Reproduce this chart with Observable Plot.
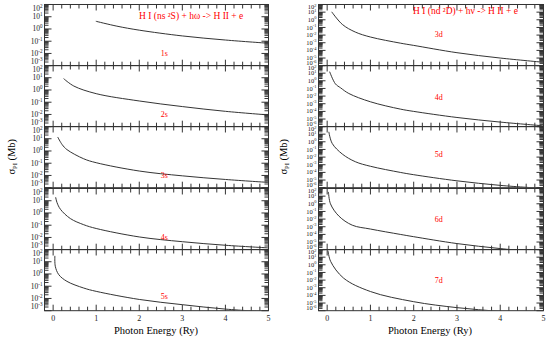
<!DOCTYPE html>
<html><head><meta charset="utf-8">
<script src="https://cdn.jsdelivr.net/npm/d3@7"></script>
<script src="https://cdn.jsdelivr.net/npm/@observablehq/plot@0.6"></script>
<style>
body{margin:0;background:#fff;}
#chart{position:relative;width:550px;height:346px;font-family:"Liberation Serif","Times New Roman",serif;overflow:hidden;background:#fff;}
#chart > svg{position:absolute;overflow:visible;}
.abs{position:absolute;white-space:nowrap;line-height:1;}
.red{color:#f00;}
</style></head><body><div id="chart"></div>
<script>
// ---------- data (photon energy in Ry, cross section in Mb) ----------
const sLabels = ["1s", "2s", "3s", "4s", "5s"];
const dLabels = ["3d", "4d", "5d", "6d", "7d"];

const e1s = [1.0, 1.48, 2, 3, 4, 5];
const sig1s = [4.2, 1.7, 0.80, 0.27, 0.125, 0.068];
const e2s = [0.25, 0.48, 1, 2, 3, 4, 5];
const sig2s = [8.1, 2.1, 0.50, 0.126, 0.044, 0.018, 0.0091];
const e3s = [0.11, 0.21, 0.32, 0.71, 1, 2, 3, 4, 5];
const sig3s = [13, 3.3, 1.3, 0.23, 0.11, 0.023, 0.0093, 0.0047, 0.0027];
const e4s = [0.06, 0.09, 0.17, 0.40, 0.71, 1, 2, 3, 4, 5];
const sig4s = [18, 7.1, 2.0, 0.35, 0.11, 0.054, 0.011, 0.0045, 0.0023, 0.0014];
const e5s = [0.04, 0.05, 0.13, 0.32, 0.71, 1, 2, 3, 4, 5];
const sig5s = [28, 4.3, 0.89, 0.25, 0.071, 0.038, 0.0083, 0.0031, 0.00135, 0.00079];

const e3d = [0.11, 0.35, 0.65, 1, 1.69, 2, 3, 4, 5];
const sig3d = [10, 0.25, 0.025, 0.0056, 8.9e-4, 4.5e-4, 5.0e-5, 1.0e-5, 2.8e-6];
const e4d = [0.06, 0.19, 0.31, 0.5, 1, 1.69, 2, 3, 4, 5];
const sig4d = [14, 0.4, 0.12, 0.022, 0.0018, 2.0e-4, 1.0e-4, 1.6e-5, 4.0e-6, 1.3e-6];
const e5d = [0.04, 0.115, 0.35, 0.65, 1, 1.69, 2, 3, 4, 5];
const sig5d = [18, 0.63, 0.025, 0.0025, 6.3e-4, 1.0e-4, 5.0e-5, 7.9e-6, 2.0e-6, 7.9e-7];
const e6d = [0.03, 0.076, 0.27, 0.58, 1, 1.69, 2, 3, 4, 5];
const sig6d = [32, 1.0, 0.025, 0.0016, 5.0e-4, 1.0e-4, 5.0e-5, 6.3e-6, 1.4e-6, 4.0e-7];
const e7d = [0.02, 0.08, 0.38, 1, 2, 3, 4, 5];
const sig7d = [63, 2.8, 0.018, 3.2e-4, 1.5e-5, 2.5e-6, 7.9e-7, 2.5e-7];

// label anchor positions (data units)
const labelEnergy = 2.58;
const sLabelSigma = [0.01, 0.0095, 0.0095, 0.0095, 0.016];
const dLabelSigma = [0.0126, 0.0063, 0.025, 0.008, 0.01];

const xDomain = [-0.2, 5];
const xTickValues = [0, 1, 2, 3, 4, 5];
const sDomain = [1e-3, 1e2];
const dDomain = [1e-6, 1e2];

const titleS = "H I (ns \u00B2S) + h\u03C9 -> H II + e";
const titleD = "H I (nd \u00B2D) + h\u03BD -> H II + e";
const xTitle = "Photon Energy (Ry)";

// ---------- layout ----------
const chart = document.getElementById("chart");
const AX = "#333";
const PANEL_TOP = 4, PANEL_H = 61.2;
const xMinor = d3.range(1, 25).map(i => i / 5).filter(v => Math.abs(v - Math.round(v)) > 1e-9);

function makePanel({x, s, name, labelSigma, yDomain, left, index, frameW, labelSize, endShift, supDy}) {
  const isBottom = index === 4;
  const mT = 8, mB = isBottom ? 24 : 8, mL = 44, mR = 8;
  const lo = Math.round(Math.log10(yDomain[0])), hi = Math.round(Math.log10(yDomain[1]));
  const yMajor = d3.range(lo, hi + 1).map(k => Math.pow(10, k));
  const yMinor = [];
  for (let k = lo; k < hi; k++) for (let m = 2; m <= 9; m++) yMinor.push(m * Math.pow(10, k));
  const data = x.map((v, i) => ({e: v, s: s[i]}));
  // tick lengths converted from pixels to data units of this panel
  const ux = (xDomain[1] - xDomain[0]) / frameW;
  const uy = (hi - lo) / PANEL_H;
  const xL = xDomain[0], xR = xDomain[1];
  const yTopIn = n => Math.pow(10, hi - n * uy);
  const yBotIn = n => Math.pow(10, lo + n * uy);
  const tk = {stroke: AX, strokeWidth: 1};
  const marks = [
    Plot.frame({stroke: AX, fill: "none"}),
    // inward y ticks, both sides
    Plot.link(yMajor, {x1: xL, x2: xL + 7 * ux, y1: d => d, y2: d => d, ...tk}),
    Plot.link(yMinor, {x1: xL, x2: xL + 4 * ux, y1: d => d, y2: d => d, ...tk}),
    Plot.link(yMajor, {x1: xR, x2: xR - 7 * ux, y1: d => d, y2: d => d, ...tk}),
    Plot.link(yMinor, {x1: xR, x2: xR - 4 * ux, y1: d => d, y2: d => d, ...tk}),
    // inward x ticks, top and bottom
    Plot.link(xTickValues, {x1: d => d, x2: d => d, y1: yDomain[1], y2: yTopIn(6), ...tk}),
    Plot.link(xMinor, {x1: d => d, x2: d => d, y1: yDomain[1], y2: yTopIn(4), ...tk}),
    Plot.link(xTickValues, {x1: d => d, x2: d => d, y1: yDomain[0], y2: yBotIn(6), ...tk}),
    Plot.link(xMinor, {x1: d => d, x2: d => d, y1: yDomain[0], y2: yBotIn(4), ...tk}),
    Plot.axisY({anchor: "left", ticks: yMajor, tickSize: 0, tickPadding: 2, fontSize: labelSize,
      tickFormat: d => "10^" + Math.round(Math.log10(d)), label: null, fill: "#222"}),
    Plot.line(data, {x: "e", y: "s", stroke: "#333", strokeWidth: 1, curve: "catmull-rom", clip: true}),
    Plot.text([{e: labelEnergy, s: labelSigma, t: name}], {x: "e", y: "s", text: "t", fill: "#f00", fontSize: 8})
  ];
  if (isBottom) {
    marks.push(Plot.axisX({anchor: "bottom", ticks: xTickValues, tickSize: 0, tickPadding: 5, fontSize: 8,
      tickFormat: d => String(d), label: null, fill: "#222"}));
  }
  const svg = Plot.plot({
    width: mL + frameW + mR,
    height: mT + PANEL_H + mB,
    marginLeft: mL, marginRight: mR, marginTop: mT, marginBottom: mB,
    x: {domain: xDomain, axis: null},
    y: {type: "log", domain: yDomain, axis: null},
    style: {background: "transparent", overflow: "visible", fontFamily: "'Liberation Serif', serif", color: "#222"},
    marks
  });
  // superscript exponents; nudge end labels inside the panel
  svg.querySelectorAll("text").forEach(t => {
    const m = /^10\^(-?\d+)$/.exec(t.textContent);
    if (m) {
      const k = +m[1];
      t.textContent = "10";
      const ts = document.createElementNS("http://www.w3.org/2000/svg", "tspan");
      ts.setAttribute("dy", String(supDy));
      ts.setAttribute("font-size", String(labelSize * 0.68));
      ts.textContent = m[1];
      t.appendChild(ts);
      const shift = k === hi ? endShift : k === lo ? -endShift : 0;
      if (shift) {
        const tr = t.getAttribute("transform") || "";
        t.setAttribute("transform", (tr + ` translate(0,${shift})`).trim());
      }
    }
  });
  svg.style.left = left + "px";
  svg.style.top = (PANEL_TOP + index * PANEL_H - mT) + "px";
  chart.appendChild(svg);
}

const sSeries = [[e1s, sig1s], [e2s, sig2s], [e3s, sig3s], [e4s, sig4s], [e5s, sig5s]];
const dSeries = [[e3d, sig3d], [e4d, sig4d], [e5d, sig5d], [e6d, sig6d], [e7d, sig7d]];
sSeries.forEach(([x, s], i) => makePanel({x, s, name: sLabels[i], labelSigma: sLabelSigma[i], yDomain: sDomain, left: 0, index: i, frameW: 224, labelSize: 7.5, endShift: 4, supDy: -3}));
dSeries.forEach(([x, s], i) => makePanel({x, s, name: dLabels[i], labelSigma: dLabelSigma[i], yDomain: dDomain, left: 274, index: i, frameW: 225, labelSize: 6.5, endShift: 2.5, supDy: -2.5}));

// ---------- titles ----------
function addText(html, css, cls) {
  const d = document.createElement("div");
  d.className = "abs" + (cls ? " " + cls : "");
  d.innerHTML = html;
  Object.assign(d.style, css);
  chart.appendChild(d);
  return d;
}
addText(titleS, {left: "139px", top: "12px", fontSize: "9.5px"}, "red");
addText(titleD, {left: "413px", top: "7px", fontSize: "9.5px"}, "red");
addText(xTitle, {left: "156px", top: "326px", fontSize: "10.5px", transform: "translateX(-50%)"});
addText(xTitle, {left: "430px", top: "326px", fontSize: "10.5px", transform: "translateX(-50%)"});
const yLab = "\u03C3<sub style='font-size:6.5px;vertical-align:-2px'>PI</sub> (Mb)";
addText(yLab, {left: "-17px", top: "151px", width: "60px", textAlign: "center", fontSize: "10.5px", transform: "rotate(-90deg)"});
addText(yLab, {left: "255px", top: "151px", width: "60px", textAlign: "center", fontSize: "10.5px", transform: "rotate(-90deg)"});
</script></body></html>
